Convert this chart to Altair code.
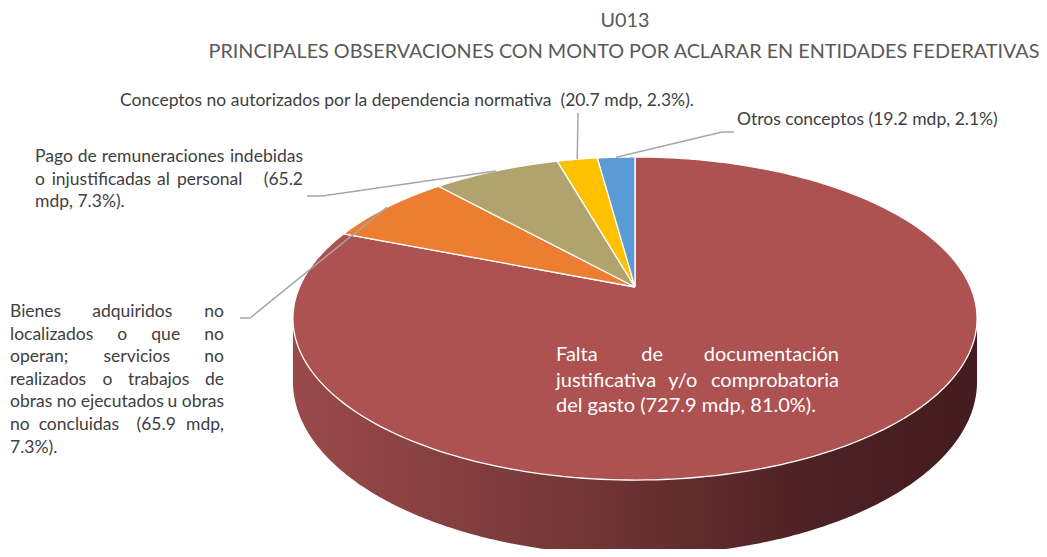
import math
import re
import altair as alt
import pandas as pd

# ---------------- data ----------------
keys = ["Falta", "Bienes", "Pago", "Conceptos", "Otros"]
values = [727.9, 65.9, 65.2, 20.7, 19.2]
slice_colors = ["#ad5151", "#ed7d31", "#b0a36e", "#ffc000", "#5b9bd5"]

title_lines = ["U013",
               "PRINCIPALES OBSERVACIONES CON MONTO POR ACLARAR EN ENTIDADES FEDERATIVAS"]
conceptos_lines = ["Conceptos no autorizados por la dependencia normativa \u00a0(20.7 mdp, 2.3%)."]
otros_lines = ["Otros conceptos (19.2 mdp, 2.1%)"]
pago_lines = ["Pago de remuneraciones indebidas",
              "o injustificadas al personal   (65.2",
              "mdp, 7.3%)."]
bienes_lines = ["Bienes adquiridos no",
                "localizados o que no",
                "operan; servicios no",
                "realizados o trabajos de",
                "obras no ejecutados u obras",
                "no concluidas  (65.9 mdp,",
                "7.3%)."]
falta_lines = ["Falta de documentación",
               "justificativa y/o comprobatoria",
               "del gasto (727.9 mdp, 81.0%)."]

# ---------------- geometry (perspective pie) ----------------
CX, CY = 635, 287
A, B, K = 335.5, 155.4, 0.195
DEPTH = 60.5
N = 240
W, H = 1031, 541

total = sum(values)
f0, f1 = [], []
acc = 0.0
for v in values:
    f0.append(acc / total)
    acc += v
    f1.append(acc / total)

rows = []
for k, a0, a1 in zip(keys, f0, f1):
    for i in range(N + 3):
        center = (i == 0) or (i == N + 2)
        t = min(max((i - 1) / N, 0.0), 1.0)
        rows.append(dict(cat=k, ord=i, center=center, t=t, f0=a0, f1=a1))
slices_df = pd.DataFrame(rows)

PX = f"{CX} + {A}*sin(datum.alpha)/(1+{K}*cos(datum.alpha))"
PY = f"{CY} - {B}*cos(datum.alpha)/(1+{K}*cos(datum.alpha))"


def X(field):
    return alt.X(field, type="quantitative",
                 scale=alt.Scale(domain=[8, 8 + W], nice=False, zero=False), axis=None)


def Y(field):
    return alt.Y(field, type="quantitative",
                 scale=alt.Scale(domain=[8, 8 + H], nice=False, zero=False, reverse=True),
                 axis=None)


def Y2(field):
    return alt.Y2(field)


# side wall (front half of the cylinder)
aR = math.acos(-K)
aL = 2 * math.pi - aR
side = (
    alt.Chart(alt.sequence(0, 1.0001, 0.004, as_="t"))
    .transform_calculate(alpha=f"{aR} + datum.t*({aL - aR})")
    .transform_calculate(px=PX, py=PY,
                         sd=f"{DEPTH}/(1+{K}*cos(datum.alpha))")
    .transform_calculate(py2="datum.py + datum.sd")
    .mark_area(
        color=alt.Gradient(
            gradient="linear", x1=0, x2=1, y1=0, y2=0,
            stops=[alt.GradientStop(color="#9a4a4a", offset=0),
                   alt.GradientStop(color="#763737", offset=0.4),
                   alt.GradientStop(color="#4d2224", offset=0.75),
                   alt.GradientStop(color="#441b1e", offset=1)]),
        interpolate="linear")
    .encode(x=X("px"), y=Y("py"), y2=Y2("py2"))
)

# top face slices
slices = (
    alt.Chart(slices_df)
    .transform_calculate(alpha="2*PI*(datum.f0 + datum.t*(datum.f1-datum.f0))")
    .transform_calculate(px=f"datum.center ? {CX} : {PX}",
                         py=f"datum.center ? {CY} : {PY}")
    .mark_line(stroke="white", strokeWidth=1.3, strokeJoin="round")
    .encode(x=X("px"), y=Y("py"),
            fill=alt.Fill("cat:N", scale=alt.Scale(domain=keys, range=slice_colors), legend=None),
            detail="cat:N",
            order=alt.Order("ord:Q"))
)

# leader lines: first point at slice mid-angle on the rim
mids = {k: (a + b) / 2 for k, a, b in zip(keys, f0, f1)}
leader_pts = {
    "Conceptos": [(578, 113)],
    "Otros": [(722, 132), (734, 132)],
    "Pago": [(322, 196), (307, 196)],
    "Bienes": [(250, 318), (240, 318)],
}
lrows = []
for k, pts in leader_pts.items():
    lrows.append(dict(seg=k, ord=0, onpie=True, mid=mids[k], fx=0, fy=0))
    for j, (x, y) in enumerate(pts):
        lrows.append(dict(seg=k, ord=j + 1, onpie=False, mid=mids[k], fx=x, fy=y))
leaders = (
    alt.Chart(pd.DataFrame(lrows))
    .transform_calculate(alpha="2*PI*datum.mid")
    .transform_calculate(px=f"datum.onpie ? {PX} : datum.fx",
                         py=f"datum.onpie ? {PY} : datum.fy")
    .mark_line(color="#a6a6a6", strokeWidth=1.5)
    .encode(x=X("px"), y=Y("py"), detail="seg:N", order=alt.Order("ord:Q"))
)

# ---------------- text ----------------
CW = {'a': .51, 'b': .56, 'c': .45, 'd': .56, 'e': .53, 'f': .32, 'g': .51, 'h': .56,
      'i': .24, 'j': .24, 'k': .5, 'l': .24, 'm': .84, 'n': .56, 'o': .56, 'p': .56,
      'q': .56, 'r': .36, 's': .43, 't': .34, 'u': .56, 'v': .5, 'w': .76, 'x': .49,
      'y': .5, 'z': .45, 'ó': .56, ' ': .2, '.': .24, ',': .24, ';': .24, '(': .3,
      ')': .3, '%': .77, '/': .38}


def tw(s, size):
    return sum(CW.get(ch, 0.58) for ch in s) * size


def layout(lines, left, right, y0, dy, size):
    out = []
    for li, line in enumerate(lines):
        y = y0 + li * dy
        parts = re.split(r"( +)", line.strip())
        words = parts[0::2]
        gaps_w = [len(g) for g in parts[1::2]]
        if right is None or li == len(lines) - 1 or len(words) == 1:
            out.append(dict(x=left, y=y, text=" ".join(words), align="left"))
            continue
        widths = [tw(w, size) for w in words]
        unit = (right - left - sum(widths)) / sum(gaps_w)
        x = left
        for wi, (w, wd) in enumerate(zip(words, widths)):
            if wi == len(words) - 1:
                out.append(dict(x=right, y=y, text=w, align="right"))
            else:
                out.append(dict(x=x, y=y, text=w, align="left"))
                x += wd + unit * gaps_w[wi]
    return out


LS = 17.5
IS = 20
label_rows = (layout(conceptos_lines, 120, None, 101, 0, LS)
              + layout(otros_lines, 737, None, 120, 0, LS)
              + layout(pago_lines, 35, 303, 157, 22.6, LS)
              + layout(bienes_lines, 10, 224, 312, 22.6, LS))
inner_rows = layout(falta_lines, 556, 839, 355, 25.5, IS)
title_rows = [dict(x=625, y=21, text=title_lines[0], align="center"),
              dict(x=624, y=52, text=title_lines[1], align="center")]


def text_layers(rows_, size, color):
    df = pd.DataFrame(rows_)
    out = []
    for al in ["left", "center", "right"]:
        sub = df[df["align"] == al]
        if len(sub) == 0:
            continue
        out.append(
            alt.Chart(sub).mark_text(align=al, baseline="middle", font="Lato",
                                     fontSize=size, color=color)
            .encode(x=X("x"), y=Y("y"), text="text:N")
        )
    return out


layers = [side, slices, leaders]
layers += text_layers(title_rows, 19.8, "#595959")
layers += text_layers(label_rows, LS, "#404040")
layers += text_layers(inner_rows, IS, "#ffffff")

chart = (
    alt.layer(*layers)
    .properties(width=W, height=H, padding=0, autosize=alt.AutoSizeParams(type="none"),
                background="white")
    .configure_view(stroke=None)
)

chart.save("out.html", embed_options={"renderer": "svg", "actions": False})
